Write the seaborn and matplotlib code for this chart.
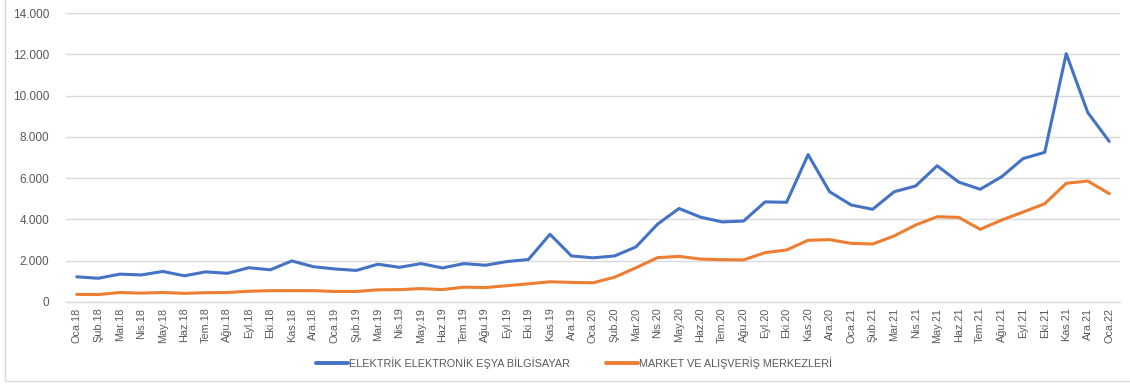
import matplotlib
matplotlib.use("Agg")
import matplotlib.pyplot as plt
from matplotlib.patches import Rectangle
from matplotlib.ticker import FuncFormatter, FixedLocator
import numpy as np
import pandas as pd
import seaborn as sns

# Monthly labels, January 2018 to January 2022
months = ["Oca", "Şub", "Mar", "Nis", "May", "Haz", "Tem", "Ağu", "Eyl", "Eki", "Kas", "Ara"]
labels = [f"{m}.{y}" for y in ("18", "19", "20", "21") for m in months] + ["Oca.22"]

series_names = ["ELEKTRİK ELEKTRONİK EŞYA BİLGİSAYAR", "MARKET VE ALIŞVERİŞ MERKEZLERİ"]

elektrik = [
    1220, 1150, 1350, 1310, 1480, 1270, 1460, 1390, 1660, 1560, 1990, 1710,
    1600, 1530, 1830, 1680, 1860, 1650, 1860, 1780, 1960, 2060, 3280, 2230,
    2140, 2230, 2670, 3770, 4530, 4110, 3880, 3920, 4850, 4830, 7140, 5340,
    4700, 4490, 5340, 5620, 6600, 5810, 5460, 6070, 6950, 7250, 12030, 9180,
    7780,
]
market = [
    370, 360, 460, 430, 460, 420, 450, 460, 520, 550, 550, 550,
    510, 510, 590, 600, 650, 600, 720, 700, 790, 880, 980, 950,
    930, 1200, 1660, 2150, 2210, 2080, 2050, 2040, 2390, 2520, 2990, 3020,
    2840, 2810, 3200, 3730, 4130, 4100, 3520, 3970, 4360, 4760, 5750, 5860,
    5250,
]

colors = ["#4472C4", "#ED7D31"]
grid_color = "#D9D9D9"
text_color = "#595959"

idx = np.arange(len(labels))
df = pd.DataFrame({
    "pos": np.concatenate([idx, idx]),
    "value": elektrik + market,
    "series": [series_names[0]] * len(idx) + [series_names[1]] * len(idx),
})

sns.set_theme(style="white")
plt.rcParams["font.family"] = ["Liberation Sans", "DejaVu Sans"]

fig = plt.figure(figsize=(11.3, 3.85), dpi=100)
ax = fig.add_axes([66 / 1130, 1 - 302 / 385, (1120 - 66) / 1130, (302 - 13) / 385])

sns.lineplot(data=df, x="pos", y="value", hue="series", palette=colors,
             hue_order=series_names, linewidth=2.2, ax=ax, legend=False)

ax.set_xlim(-0.5, len(labels) - 0.5)
ax.set_ylim(0, 14000)
ax.set_yticks(np.arange(0, 14001, 2000))
ax.yaxis.set_major_formatter(FuncFormatter(lambda v, _: f"{int(v):,}".replace(",", ".")))
ax.grid(axis="y", color=grid_color, linewidth=1.0)
ax.set_axisbelow(True)

ax.set_xticks(idx)
ax.set_xticklabels(labels, rotation=90, fontsize=7.8, color=text_color)
ax.xaxis.set_minor_locator(FixedLocator(np.arange(-0.5, len(labels), 1.0)))
ax.tick_params(axis="x", which="major", length=0, pad=4)
ax.tick_params(axis="x", which="minor", length=4, color=grid_color, width=1.0)
ax.tick_params(axis="y", length=0, pad=12, labelsize=8.5, labelcolor=text_color)
ax.set_xlabel("")
ax.set_ylabel("")

for side in ("top", "right", "left"):
    ax.spines[side].set_visible(False)
ax.spines["bottom"].set_color(grid_color)
ax.spines["bottom"].set_linewidth(1.0)

handles = [plt.Line2D([], [], color=c, linewidth=2.8) for c in colors]
fig.legend(handles, series_names, loc="center", bbox_to_anchor=(0.508, 1 - 363 / 385),
           ncol=2, frameon=False, fontsize=7.8, handlelength=3.0, handletextpad=0.1,
           columnspacing=3.3, labelcolor=text_color)

# Light outer chart frame
fig.patches.append(Rectangle((5 / 1130, 1 - 381 / 385), 1.2, 1.2, transform=fig.transFigure,
                             fill=False, edgecolor=grid_color, linewidth=1.0))

fig.savefig("out.png", dpi=100)
